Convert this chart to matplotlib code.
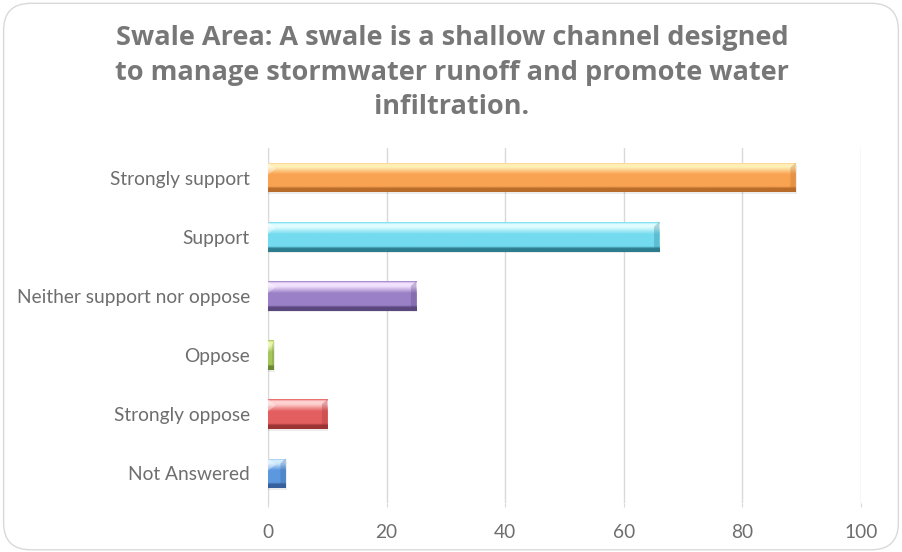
import matplotlib
matplotlib.use("Agg")
import matplotlib.pyplot as plt
import numpy as np
from matplotlib.colors import LinearSegmentedColormap
from matplotlib.patches import FancyBboxPatch, Polygon

categories = [
    "Strongly support",
    "Support",
    "Neither support nor oppose",
    "Oppose",
    "Strongly oppose",
    "Not Answered",
]
values = [89, 66, 25, 1, 10, 3]

# (highlight, body, shadow) per bar
bar_shades = [
    ("#fff0b8", "#f9a352", "#b86c2a"),
    ("#e0fdff", "#74dbef", "#2d7d8e"),
    ("#f3e2ff", "#9a80c6", "#5a477e"),
    ("#e8f6a8", "#a6c65c", "#6c8836"),
    ("#ffd2d2", "#e45f5f", "#9c3434"),
    ("#d2ecff", "#5c98de", "#36609c"),
]

title = ("Swale Area: A swale is a shallow channel designed\n"
         "to manage stormwater runoff and promote water\n"
         "infiltration.")

TEXT = "#6e6e6e"
GRID = "#d9d9d9"

plt.rcParams["font.family"] = ["Lato", "DejaVu Sans"]

fig = plt.figure(figsize=(9.02, 5.52), dpi=100)
fig.patch.set_facecolor("white")

# rounded chart border
fig.patches.append(FancyBboxPatch(
    (0.004, 0.004), 0.992, 0.99, boxstyle="round,pad=0,rounding_size=0.03",
    transform=fig.transFigure, facecolor="none", edgecolor=GRID,
    linewidth=1.0, mutation_aspect=902 / 552))

ax = fig.add_axes([0.2971, 0.0888, 0.6574, 0.6431])
ypos = np.arange(len(categories))
bar_h = 0.5


def bevel_bar(ax, y, width, shades, h=bar_h):
    hi, mid, lo = shades
    # colour stops from the top edge of the bar to the bottom edge
    cmap = LinearSegmentedColormap.from_list(
        "bev", [(0.0, mid), (0.06, hi), (0.16, hi), (0.4, mid),
                (0.82, mid), (0.88, lo), (1.0, lo)])
    base = ax.barh(y, width, height=h, color=mid, edgecolor="none",
                   zorder=3)[0]
    grad = np.linspace(0, 1, 64).reshape(-1, 1)
    im = ax.imshow(grad, cmap=cmap, aspect="auto", origin="upper",
                   extent=(0, width, y + h / 2, y - h / 2), zorder=3.1,
                   interpolation="bilinear")
    im.set_clip_path(base)
    # bevelled end caps
    cap = min(0.9, width * 0.3)
    top, bot = y - h / 2, y + h / 2
    ax.add_patch(Polygon([(width - cap, top + 0.08), (width, top),
                          (width, bot), (width - cap, bot - 0.08)],
                         closed=True, facecolor=lo, alpha=0.3,
                         edgecolor="none", zorder=3.2))
    ax.add_patch(Polygon([(0, top), (cap * 1.5, top + 0.1), (0, top + 0.2)],
                         closed=True, facecolor="white", alpha=0.35,
                         edgecolor="none", zorder=3.2))
    # soft drop shadow
    ax.barh(y + 0.03, width + 0.15, height=h, left=0, color="#000000",
            alpha=0.07, edgecolor="none", zorder=2.5)


for y, v, sh in zip(ypos, values, bar_shades):
    bevel_bar(ax, y, v, sh)

ax.set_xlim(0, 100)
ax.set_ylim(len(categories) - 0.5, -0.5)
ax.set_xticks(range(0, 101, 20))
ax.set_yticks(ypos)
ax.set_yticklabels(categories)
ax.grid(axis="x", color=GRID, linewidth=1.0, zorder=0)
ax.set_axisbelow(True)
for s in ("top", "right", "bottom"):
    ax.spines[s].set_visible(False)
ax.spines["left"].set_color(GRID)
ax.spines["left"].set_zorder(1)
ax.tick_params(axis="y", length=0, pad=13, labelsize=13.8, labelcolor=TEXT)
ax.tick_params(axis="x", length=3, color=GRID, pad=12, labelsize=13.8,
               labelcolor=TEXT)

fig.text(0.501, 0.868, title, ha="center", va="center", fontsize=19.5,
         fontweight="bold", color="#777777", linespacing=1.42,
         family=["Open Sans", "DejaVu Sans"])

fig.savefig("out.png", dpi=100, facecolor="white")
